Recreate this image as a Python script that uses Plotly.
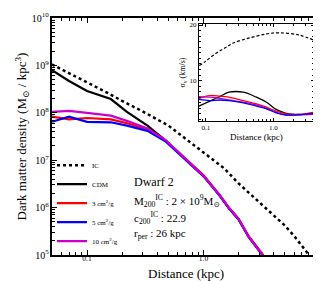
import numpy as np
import plotly.graph_objects as go

# ---------------- main panel data ----------------
r_ic = [0.05, 0.07, 0.1, 0.15, 0.2, 0.3, 0.5, 0.7, 1.0, 1.5, 2.0, 3.0, 4.0, 5.0, 6.0, 7.0, 8.0, 9.0]
log_rho_ic = [9.02, 8.84, 8.64, 8.42, 8.25, 8.03, 7.73, 7.46, 7.17, 6.83, 6.51, 6.11, 5.82, 5.62, 5.40, 5.18, 4.99, 4.85]

r_sim = [0.05, 0.07, 0.1, 0.16, 0.22, 0.33, 0.47, 0.72, 1.0, 1.37, 1.66, 2.0, 2.45, 3.22, 3.6]
log_rho_cdm = [8.90, 8.67, 8.46, 8.29, 8.02, 7.73, 7.42, 6.99, 6.67, 6.26, 5.98, 5.75, 5.38, 5.00, 4.85]
log_rho_3 = [7.92, 7.86, 7.89, 7.86, 7.78, 7.66, 7.42, 7.00, 6.68, 6.27, 5.99, 5.76, 5.39, 5.01, 4.86]
log_rho_5 = [7.81, 7.92, 7.81, 7.80, 7.73, 7.62, 7.40, 6.98, 6.66, 6.26, 5.98, 5.75, 5.37, 4.99, 4.84]
log_rho_10 = [8.02, 8.04, 8.00, 7.94, 7.83, 7.67, 7.43, 6.99, 6.67, 6.27, 5.99, 5.76, 5.38, 5.00, 4.85]

# ---------------- inset data (velocity dispersion) ----------------
r_in_ic = [0.08, 0.1, 0.145, 0.2, 0.26, 0.45, 0.79, 1.22, 2.4, 3.9]
sig_ic = [12.7, 13.5, 15.0, 16.0, 16.8, 17.7, 18.4, 18.6, 18.2, 17.3]

r_in = [0.079, 0.115, 0.16, 0.22, 0.36, 0.56, 0.79, 1.1, 1.55, 2.4, 3.9]
sig_cdm = [5.4, 6.3, 7.1, 7.9, 7.9, 7.0, 6.1, 4.8, 4.1, 3.9, 4.1]
sig_3 = [6.8, 7.3, 7.2, 7.0, 6.4, 5.8, 5.2, 4.5, 4.0, 3.9, 4.3]
sig_5 = [6.6, 6.4, 6.5, 6.4, 6.0, 5.4, 4.9, 4.2, 3.8, 3.85, 4.1]
sig_10 = [7.1, 7.0, 6.8, 6.5, 6.1, 5.6, 5.0, 4.3, 3.8, 3.8, 3.9]

labels = ["IC", "CDM", "3 cm<sup>2</sup>/g", "5 cm<sup>2</sup>/g", "10 cm<sup>2</sup>/g"]
colors = ["black", "black", "#ff0000", "#0000ff", "#cc00cc"]

FONT = "Liberation Serif, DejaVu Serif, serif"

fig = go.Figure()

# main traces
fig.add_trace(go.Scatter(x=r_ic, y=10 ** np.array(log_rho_ic), mode="lines", name=labels[0],
                         line=dict(color=colors[0], width=2.5, dash="dot")))
for lg, lab, col in zip([log_rho_cdm, log_rho_3, log_rho_5, log_rho_10], labels[1:], colors[1:]):
    fig.add_trace(go.Scatter(x=r_sim, y=10 ** np.array(lg), mode="lines", name=lab,
                             line=dict(color=col, width=2.2)))

# inset traces
fig.add_trace(go.Scatter(x=r_in_ic, y=sig_ic, mode="lines", showlegend=False,
                         line=dict(color="black", width=1.2, dash="3px,2px", shape="spline"),
                         xaxis="x2", yaxis="y2"))
for s, col in zip([sig_cdm, sig_3, sig_10, sig_5], [colors[1], colors[2], colors[4], colors[3]]):
    fig.add_trace(go.Scatter(x=r_in, y=s, mode="lines", showlegend=False,
                             line=dict(color=col, width=1.3, shape="spline"),
                             xaxis="x2", yaxis="y2"))

axis_common = dict(showline=True, linecolor="black", mirror="ticks", ticks="inside",
                   tickcolor="black", showgrid=False, zeroline=False)

fig.update_layout(
    width=321, height=281,
    margin=dict(l=44, r=9, t=8, b=34),
    paper_bgcolor="white", plot_bgcolor="white",
    font=dict(family=FONT, color="black"),
    xaxis=dict(type="log", range=[np.log10(0.05), 1], domain=[0, 1],
               tickvals=[0.1, 1, 10], ticktext=["0.1", "1.0", "10"],
               tickfont=dict(size=7.5), ticklen=5, linewidth=1.5,
               ticklabelstandoff=-5,
               minor=dict(ticks="inside", ticklen=3, tickcolor="black", dtick="D1"),
               automargin=False,
               **axis_common),
    yaxis=dict(type="log", range=[5, 10], dtick=1, exponentformat="power",
               tickfont=dict(size=8), ticklen=5, linewidth=1.5,
               minor=dict(ticks="inside", ticklen=3, tickcolor="black", dtick="D1"),
               title=dict(text="Dark matter density (M<sub>⊙</sub> / kpc<sup>3</sup>)",
                          font=dict(size=13), standoff=2),
               automargin=False,
               **axis_common),
    xaxis2=dict(type="log", range=[np.log10(0.079), np.log10(4.0)], domain=[0.548, 0.978],
                anchor="y2", tickvals=[0.1, 1], ticktext=["0.1", "1.0"],
                tickfont=dict(size=7), ticklen=3, linewidth=1,
                minor=dict(ticks="inside", ticklen=2, tickcolor="black", dtick="D1"),
                title=dict(text="Distance (kpc)", font=dict(size=9), standoff=2),
                **axis_common),
    yaxis2=dict(range=[2.7, 20.2], domain=[0.565, 0.975], anchor="x2",
                tickvals=[10, 20], ticktext=["10", "20"],
                tickfont=dict(size=7), ticklen=3, linewidth=1,
                minor=dict(ticks="inside", ticklen=2, tickcolor="black", dtick=1),
                title=dict(text="σ<sub>v</sub> (km/s)", font=dict(size=8), standoff=2),
                **axis_common),
    legend=dict(x=0.0, y=0.44, xanchor="left", yanchor="top", bgcolor="rgba(0,0,0,0)",
                font=dict(size=7, family=FONT), itemwidth=30, tracegroupgap=0),
    showlegend=True,
)

# main x-axis title
fig.add_annotation(text="Distance (kpc)", xref="paper", yref="paper", x=0.5, y=-0.076,
                   xanchor="center", yanchor="middle", showarrow=False,
                   font=dict(size=13, family=FONT, color="black"))

texts = ["Dwarf 2",
         "M<sub>200</sub><sup>IC</sup> : 2 × 10<sup>9</sup>M<sub>⊙</sub>",
         "c<sub>200</sub><sup>IC</sup> : 22.9",
         "r<sub>per</sub> : 26 kpc"]
ys = [0.31, 0.228, 0.158, 0.088]
sizes = [12, 11, 11, 11]
for t, yy, fs in zip(texts, ys, sizes):
    fig.add_annotation(text=t, xref="paper", yref="paper", x=0.300, y=yy,
                       xanchor="left", yanchor="middle", showarrow=False,
                       font=dict(size=fs, family=FONT, color="black"))

fig.write_html("out.html")
